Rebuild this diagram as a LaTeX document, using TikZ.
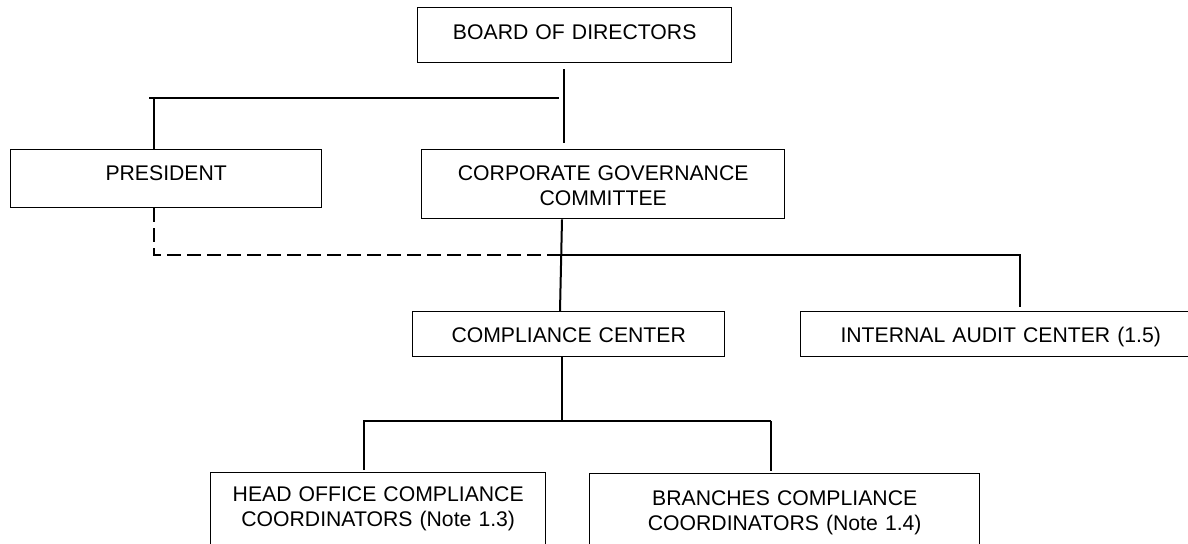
\documentclass[tikz,border=0pt]{standalone}
\usepackage{fontspec}
\setmainfont{Liberation Sans}
\begin{document}
\begin{tikzpicture}[x=0.5pt, y=-0.5pt,
  unit/.style={draw=black, line width=0.7pt, inner sep=0pt, align=center,
    anchor=north west, font=\fontsize{10.6pt}{12.5pt}\selectfont},
  conn/.style={draw=black, line width=1pt},
  dotted link/.style={draw=black, line width=1pt, dash pattern=on 7pt off 3pt}]
\useasboundingbox (0,0) rectangle (1188,544);
\clip (0,0) rectangle (1188,544);

% units of the organisation
\node[unit, text width=157pt, text height=15.8pt, text depth=11.7pt] (board) at (417,7) {BOARD OF DIRECTORS};
\node[unit, text width=155.5pt, text height=15.3pt, text depth=13.7pt] (pres) at (10,149) {PRESIDENT};
\node[unit, text width=181.5pt, text height=15.3pt, text depth=19.2pt] (cgc) at (421,149) {CORPORATE GOVERNANCE\\COMMITTEE};
\node[unit, text width=156pt, text height=15.3pt, text depth=7.2pt] (comp) at (412,311) {COMPLIANCE CENTER};
\node[unit, text width=200pt, text height=15.3pt, text depth=7.2pt] (audit) at (800,311) {INTERNAL AUDIT CENTER (1.5)};
\node[unit, text width=167.5pt, text height=14.3pt, text depth=40pt] (ho) at (210,472) {HEAD OFFICE COMPLIANCE\\COORDINATORS (Note 1.3)};
\node[unit, text width=195pt, text height=16pt, text depth=40pt] (br) at (589,473) {BRANCHES COMPLIANCE\\COORDINATORS (Note 1.4)};

% junction points of the reporting lines
\coordinate (spine) at (564,98);
\coordinate (topL) at (149,98);
\coordinate (topR) at (559,98);
\coordinate (presTee) at (154,98);
\coordinate (dashCorner) at (154,255);
\coordinate (cross) at (561,255);
\coordinate (auditTee) at (1020,255);
\coordinate (cgcOut) at (562,0);
\coordinate (compIn) at (560,0);
\coordinate (lowTee) at (562,421);
\coordinate (lowL) at (363,421);
\coordinate (lowR) at (771,421);
\coordinate (hoIn) at (364,421);

% board to committee and president
\draw[conn, shorten <=3pt, shorten >=3pt] (board.south -| spine) -- (cgc.north -| spine);
\draw[conn] (topL) -- (topR);
\draw[conn] (presTee) -- (pres.north -| presTee);

% president's dotted line
\draw[dotted link] (pres.south -| dashCorner) -- (dashCorner) -- (cross);

% committee to compliance and internal audit
\draw[conn] (cgc.south -| cgcOut) -- (comp.north -| compIn);
\draw[conn] (cross) -- (auditTee) -- ([yshift=2pt]audit.north -| auditTee);

% compliance center to coordinators
\draw[conn] (comp.south -| lowTee) -- (lowTee);
\draw[conn] (lowL) -- (lowR);
\draw[conn] (hoIn) -- ([yshift=1pt]ho.north -| hoIn);
\draw[conn] (lowR) -- ([yshift=1pt]br.north -| lowR);
\end{tikzpicture}
\end{document}
